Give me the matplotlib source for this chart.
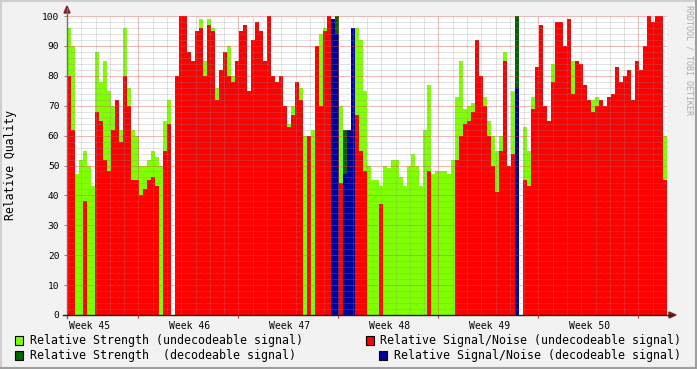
import numpy as np
import matplotlib
matplotlib.use("Agg")
import matplotlib.pyplot as plt
from matplotlib.patches import Rectangle, Polygon
from matplotlib.lines import Line2D

# one value per 4px column, 0.28 day each, 6 weeks total
step_days = 0.28

strength_undec = [96, 90, 47, 52, 55, 50, 43, 88, 78, 85, 75, 70, 72, 62, 96, 76, 62, 60, 50, 50,
                  52, 55, 53, 50, 65, 72, 0, 75, 95, 95, 85, 80, 90, 99, 85, 99, 96, 76, 70, 70,
                  90, 80, 75, 80, 91, 70, 80, 96, 80, 70, 80, 75, 70, 70, 65, 64, 70, 70, 76, 60,
                  50, 62, 87, 94, 96, 90, 80, 86, 70, 60, 58, 90, 96, 92, 75, 50, 45, 45, 43, 50,
                  49, 52, 52, 46, 43, 50, 54, 50, 43, 62, 77, 47, 48, 48, 48, 47, 52, 73, 85, 69,
                  70, 71, 77, 77, 73, 65, 60, 55, 60, 88, 0, 75, 78, 0, 63, 55, 73, 81, 80, 70,
                  62, 84, 80, 80, 80, 80, 85, 75, 75, 70, 68, 72, 73, 70, 65, 69, 70, 82, 72, 70,
                  72, 70, 75, 80, 85, 90, 90, 90, 90, 60]

snr_undec = [80, 62, 0, 0, 38, 0, 0, 68, 65, 52, 48, 62, 72, 58, 80, 70, 45, 45, 40, 42,
             45, 46, 43, 0, 55, 64, 0, 80, 100, 100, 88, 85, 95, 96, 80, 97, 95, 72, 82, 88,
             80, 78, 85, 95, 97, 75, 92, 98, 95, 85, 100, 80, 78, 80, 70, 63, 67, 78, 72, 0,
             60, 0, 90, 70, 95, 100, 0, 0, 44, 44, 0, 0, 67, 55, 48, 0, 0, 0, 37, 0,
             0, 0, 0, 0, 0, 0, 0, 0, 0, 0, 48, 0, 0, 0, 0, 0, 0, 52, 60, 64,
             65, 68, 92, 80, 70, 60, 50, 41, 55, 85, 50, 54, 56, 0, 45, 43, 69, 83, 97, 70,
             65, 78, 98, 98, 90, 99, 74, 85, 84, 77, 72, 68, 70, 72, 70, 73, 74, 83, 78, 80,
             82, 72, 85, 82, 90, 100, 98, 100, 100, 45]

# decodeable signal, only a few columns
strength_dec_cols = [67, 69, 71, 112]
strength_dec = [100, 62, 63, 100]
snr_dec_cols = [66, 67, 69, 70, 71, 112]
snr_dec = [99, 94, 47, 62, 96, 76]

week_labels = ["Week 45", "Week 46", "Week 47", "Week 48", "Week 49", "Week 50"]
week_label_days = [1.6, 8.6, 15.6, 22.6, 29.6, 36.6]
week_start_days = [5, 12, 19, 26, 33, 40]

W, H = 697, 369
mono = "DejaVu Sans Mono"
plt.rcParams["font.family"] = mono

fig = plt.figure(figsize=(W / 100, H / 100), dpi=100, facecolor="#F2F2F2")
ax = fig.add_axes([67 / W, 54 / H, 600 / W, 299 / H])
ax.set_facecolor("white")
ax.set_xlim(0, 42)
ax.set_ylim(0, 100)

edges = np.arange(len(snr_undec) + 1) * step_days
g = np.append(strength_undec, strength_undec[-1])
r = np.append(snr_undec, snr_undec[-1])
ax.fill_between(edges, g, step="post", color="#7FFF00", lw=0, antialiased=False, zorder=1)
ax.fill_between(edges, r, step="post", color="#FF0000", lw=0, antialiased=False, zorder=1.1)
ax.bar(np.array(strength_dec_cols) * step_days, strength_dec, width=step_days, align="edge",
       color="#006600", lw=0, zorder=1.2)
ax.bar(np.array(snr_dec_cols) * step_days, snr_dec, width=step_days, align="edge",
       color="#000099", lw=0, zorder=1.3)

# grid on top, rrdtool style (dotted)
minor_c = (0.56, 0.56, 0.56, 0.25)
major_c = (0.87, 0.31, 0.31, 0.4)
for d in range(1, 42):
    c = major_c if d in week_start_days else minor_c
    ax.axvline(d, color=c, lw=0.72, ls=(0, (1, 1)), antialiased=False, zorder=3)
for v in range(2, 101, 2):
    c = major_c if v % 10 == 0 else minor_c
    ax.axhline(v, color=c, lw=0.72, ls=(0, (1, 1)), antialiased=False, zorder=3)

for s in ax.spines.values():
    s.set_visible(False)

ax.set_yticks(range(0, 101, 10))
ax.tick_params(axis="y", length=2, width=0.7, color="#808080", labelsize=6.8, pad=3.5)
ax.set_xticks(week_start_days)
ax.set_xticklabels([])
ax.tick_params(axis="x", which="major", length=2, width=0.8, color="#C04040")
ax.set_xticks(week_label_days, minor=True)
ax.set_xticklabels(week_labels, minor=True)
ax.tick_params(axis="x", which="minor", length=0, labelsize=7, pad=4)


def px(x, y):
    return (x / W, 1 - y / H)


# axes with arrows
fig.add_artist(Line2D([px(67, 318)[0], px(67, 8)[0]], [px(67, 318)[1], px(67, 8)[1]],
                      color="#707070", lw=1, transform=fig.transFigure))
fig.add_artist(Line2D([px(63, 315)[0], px(672, 315)[0]], [px(63, 315)[1], px(672, 315)[1]],
                      color="#1F1F1F", lw=1, transform=fig.transFigure))
fig.add_artist(Polygon([px(64, 13), px(70, 13), px(67, 6)], closed=True, color="#801F1F",
                       transform=fig.transFigure))
fig.add_artist(Polygon([px(669, 312), px(669, 318), px(676, 315)], closed=True, color="#801F1F",
                       transform=fig.transFigure))

fig.text(px(11, 165)[0], px(11, 165)[1], "Relative Quality", rotation=90, ha="center",
         va="center", fontsize=8.3)
fig.text(px(688.5, 60)[0], px(688.5, 60)[1], "RRDTOOL / TOBI OETIKER", rotation=270,
         ha="center", va="center", fontsize=6, color="#AAAAAA")

# legend
legend = [
    (15, 336, "#7FFF00", 30, "Relative Strength (undecodeable signal)"),
    (366, 336, "#FF0000", 380, "Relative Signal/Noise (undecodeable signal)"),
    (15, 351, "#006600", 30, "Relative Strength  (decodeable signal)"),
    (379, 351, "#000099", 394, "Relative Signal/Noise (decodeable signal)"),
]
for bx, by, col, tx, txt in legend:
    x0, y0 = px(bx, by + 9)
    fig.add_artist(Rectangle((x0, y0), 8 / W, 9 / H, facecolor=col, edgecolor="black",
                             lw=0.8, transform=fig.transFigure))
    fig.text(tx / W, 1 - (by + 4.5) / H, txt, ha="left", va="center", fontsize=8.4)

# frame shading
fig.add_artist(Line2D([0, 1], [1 - 1 / H, 1 - 1 / H], color="#CFCFCF", lw=1.5, transform=fig.transFigure))
fig.add_artist(Line2D([1 / W, 1 / W], [0, 1], color="#CFCFCF", lw=1.5, transform=fig.transFigure))
fig.add_artist(Line2D([0, 1], [1 / H, 1 / H], color="#9E9E9E", lw=1.5, transform=fig.transFigure))
fig.add_artist(Line2D([1 - 1 / W, 1 - 1 / W], [0, 1], color="#9E9E9E", lw=1.5, transform=fig.transFigure))

fig.savefig("out.png", dpi=100, facecolor=fig.get_facecolor())
